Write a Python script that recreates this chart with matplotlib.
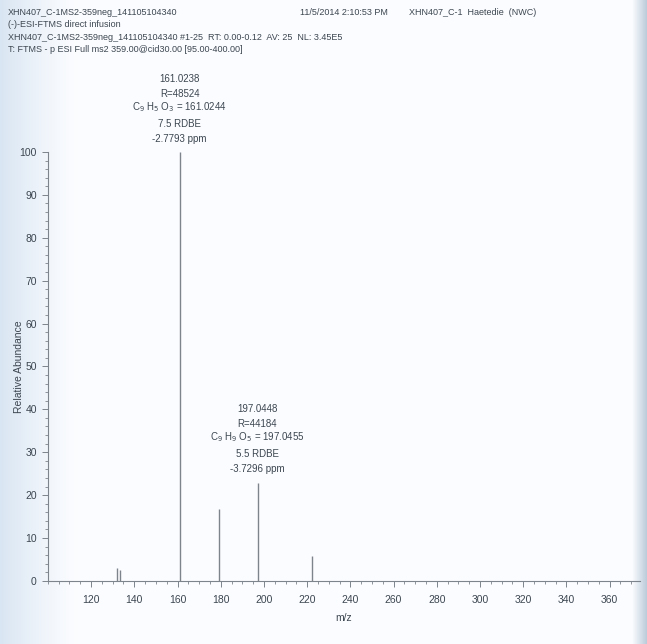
import numpy as np
import matplotlib.pyplot as plt
from matplotlib.ticker import MultipleLocator

plt.rcParams['font.family'] = ['Liberation Sans', 'DejaVu Sans']

# centroid peaks (m/z, relative abundance %)
mz = [132.0, 133.4, 161.0238, 179.0, 197.0448, 222.3]
abundance = [3.0, 2.5, 100.0, 16.8, 22.9, 5.8]

# header lines
header_left = ["XHN407_C-1MS2-359neg_141105104340",
               "(-)-ESI-FTMS direct infusion",
               "XHN407_C-1MS2-359neg_141105104340 #1-25  RT: 0.00-0.12  AV: 25  NL: 3.45E5",
               "T: FTMS - p ESI Full ms2 359.00@cid30.00 [95.00-400.00]"]
header_date = "11/5/2014 2:10:53 PM"
header_sample = "XHN407_C-1  Haetedie  (NWC)"

# peak labels
label_mz = [161.0238, 197.0448]
label_y = [100.0, 22.9]
label_text = [
    ["161.0238", "R=48524", r"C$_9$ H$_5$ O$_3$ = 161.0244", "7.5 RDBE", "-2.7793 ppm"],
    ["197.0448", "R=44184", r"C$_9$ H$_9$ O$_5$ = 197.0455", "5.5 RDBE", "-3.7296 ppm"],
]

txt = '#3c4650'
line_c = '#7d848c'

fig = plt.figure(figsize=(6.47, 6.44), dpi=100)

# faint bluish tint along the edges of the page
bg = fig.add_axes([0, 0, 1, 1], zorder=-10)
xx = np.linspace(0, 1, 647)
left = np.clip(1 - xx / 0.12, 0, 1) ** 1.3
right = np.clip((xx - 0.978) / 0.022, 0, 1)
shade = np.zeros((2, 647, 3))
base = np.array([0.985, 0.99, 1.0])
blue = np.array([0.85, 0.9, 0.95])
edge = np.array([0.74, 0.8, 0.86])
for i in range(647):
    c = base * (1 - left[i]) + blue * left[i]
    c = c * (1 - right[i]) + edge * right[i]
    shade[:, i] = c
bg.imshow(shade, aspect='auto', extent=[0, 1, 0, 1])
bg.axis('off')

ax = fig.add_axes([0.074, 0.098, 0.915, 0.666])
ax.patch.set_alpha(0)
ax.vlines(mz, 0, abundance, color=line_c, lw=1.0)

ax.set_xlim(100, 374)
ax.set_ylim(0, 100)
ax.xaxis.set_minor_locator(MultipleLocator(5))
ax.yaxis.set_major_locator(MultipleLocator(10))
ax.yaxis.set_minor_locator(MultipleLocator(2))
ax.set_xticks(np.arange(120, 361, 20))
for s in ['top', 'right']:
    ax.spines[s].set_visible(False)
for s in ['left', 'bottom']:
    ax.spines[s].set_color(line_c)
    ax.spines[s].set_linewidth(0.8)
ax.tick_params(which='major', length=4, width=0.7, color=line_c,
               labelsize=7.5, labelcolor=txt)
ax.tick_params(axis='x', which='major', pad=6)
ax.tick_params(axis='y', which='major', pad=4)
ax.tick_params(which='minor', length=2, width=0.6, color=line_c)
ax.set_xlabel('m/z', fontsize=7.5, color=txt, labelpad=6)
ax.set_ylabel('Relative Abundance', fontsize=7.5, color=txt)
ax.yaxis.set_label_coords(-0.04, 0.5)

# stacked peak annotations, bottom line just above the peak top
for x, y, lines in zip(label_mz, label_y, label_text):
    for k, t in enumerate(reversed(lines)):
        ax.annotate(t, (x, y), xytext=(0, 6 + k * 10.8), textcoords='offset points',
                    ha='center', va='bottom', fontsize=7, color=txt,
                    annotation_clip=False)

for i, t in enumerate(header_left):
    fig.text(0.012, 0.988 - i * 0.0195, t, fontsize=6.5, color=txt, va='top')
fig.text(0.463, 0.988, header_date, fontsize=6.5, color=txt, va='top')
fig.text(0.632, 0.988, header_sample, fontsize=6.5, color=txt, va='top')

fig.savefig('out.png', dpi=100)
